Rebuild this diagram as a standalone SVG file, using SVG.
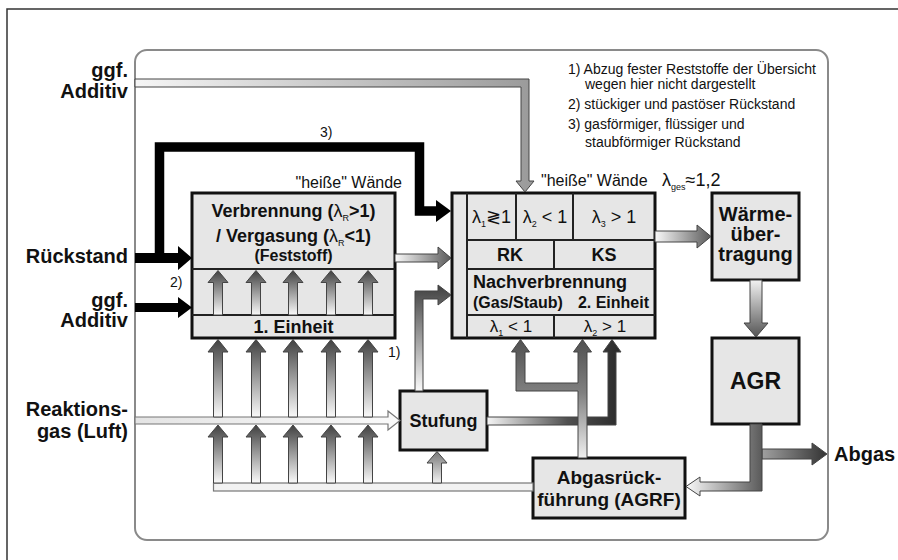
<svg xmlns="http://www.w3.org/2000/svg" width="898" height="560" viewBox="0 0 898 560">
<style>
text{font-family:"Liberation Sans",Arial,"DejaVu Sans",sans-serif;fill:#111}
.b{font-weight:bold}
.lam{font-weight:normal}
.box{fill:#e6e6e6;stroke:#111;stroke-width:3}
.div{stroke:#222;stroke-width:2}
.ga{stroke:#444;stroke-width:1}
.hol{stroke:#777;stroke-width:1.2}
.leg{font-size:14px}
</style>
<defs>
<linearGradient id="gR" x1="0" y1="0" x2="1" y2="0"><stop offset="0" stop-color="#fafafa"/><stop offset="1" stop-color="#5a5a5a"/></linearGradient>
<linearGradient id="gR2" x1="0" y1="0" x2="1" y2="0"><stop offset="0" stop-color="#f6f6f6"/><stop offset="1" stop-color="#9a9a9a"/></linearGradient>
<linearGradient id="gUp" x1="0" y1="0" x2="0" y2="1"><stop offset="0" stop-color="#404040"/><stop offset="1" stop-color="#fafafa"/></linearGradient>
<linearGradient id="gUpL" x1="0" y1="0" x2="0" y2="1"><stop offset="0" stop-color="#777"/><stop offset="1" stop-color="#f2f2f2"/></linearGradient>
<linearGradient id="gDown" x1="0" y1="0" x2="0" y2="1"><stop offset="0" stop-color="#f2f2f2"/><stop offset="1" stop-color="#555"/></linearGradient>
<linearGradient id="gAG" x1="0" y1="0" x2="0" y2="1"><stop offset="0" stop-color="#505050"/><stop offset="0.45" stop-color="#808080"/><stop offset="1" stop-color="#f0f0f0"/></linearGradient>
<linearGradient id="gSt" x1="0" y1="0" x2="1" y2="0"><stop offset="0" stop-color="#f5f5f5"/><stop offset="0.6" stop-color="#505050"/><stop offset="1" stop-color="#2a2a2a"/></linearGradient>
<linearGradient id="gAbg" x1="0" y1="0" x2="1" y2="0"><stop offset="0" stop-color="#a0a0a0"/><stop offset="1" stop-color="#333"/></linearGradient>
<linearGradient id="gRG" x1="0" y1="0" x2="1" y2="0"><stop offset="0" stop-color="#e4e4e4"/><stop offset="1" stop-color="#fafafa"/></linearGradient>
</defs>

<g id="frame">
<path d="M7,560 V9 H898" fill="none" stroke="#333" stroke-width="1.5"/>
<rect x="135" y="50" width="693" height="490" rx="12" fill="none" stroke="#8a8a8a" stroke-width="2"/>
</g>

<g id="labels">
<text class="b" font-size="20" x="128" y="77" text-anchor="end">ggf.</text>
<text class="b" font-size="20" x="128" y="98" text-anchor="end">Additiv</text>
<text class="b" font-size="20" x="128" y="263" text-anchor="end">Rückstand</text>
<text class="b" font-size="20" x="128" y="307" text-anchor="end">ggf.</text>
<text class="b" font-size="20" x="128" y="327" text-anchor="end">Additiv</text>
<text class="b" font-size="20" x="128" y="416" text-anchor="end">Reaktions-</text>
<text class="b" font-size="20" x="128" y="438" text-anchor="end">gas (Luft)</text>
<text class="b" font-size="20" x="834" y="461">Abgas</text>
<text font-size="14" x="320" y="137">3)</text>
<text font-size="14" x="170" y="287">2)</text>
<text font-size="14" x="388" y="357">1)</text>
<text font-size="16" x="402" y="188" text-anchor="end">"heiße" Wände</text>
<text font-size="16" x="541" y="186">"heiße" Wände</text>
<text font-size="18" x="662" y="186">λ<tspan font-size="9" dy="4">ges</tspan><tspan dy="-4">≈1,2</tspan></text>
<text class="leg" x="568" y="74">1) Abzug fester Reststoffe der Übersicht</text>
<text class="leg" x="585" y="89">wegen hier nicht dargestellt</text>
<text class="leg" x="568" y="109">2) stückiger und pastöser Rückstand</text>
<text class="leg" x="568" y="129">3) gasförmiger, flüssiger und</text>
<text class="leg" x="585" y="147">staubförmiger Rückstand</text>
</g>

<g id="einheit1">
<rect class="box" x="192" y="193" width="203" height="145"/>
<line class="div" x1="192" y1="269" x2="395" y2="269"/>
<line class="div" x1="192" y1="315" x2="395" y2="315"/>
<text class="b" font-size="18" x="293.5" y="217" text-anchor="middle">Verbrennung (<tspan class="lam">λ</tspan><tspan class="lam" font-size="9" dy="4">R</tspan><tspan dy="-4">&gt;1)</tspan></text>
<text class="b" font-size="18" x="293.5" y="242" text-anchor="middle">/ Vergasung (<tspan class="lam">λ</tspan><tspan class="lam" font-size="9" dy="4">R</tspan><tspan dy="-4">&lt;1)</tspan></text>
<text class="b" font-size="16" x="293.5" y="261" text-anchor="middle">(Feststoff)</text>
<text class="b" font-size="18" x="293.5" y="333" text-anchor="middle">1. Einheit</text>
</g>

<g id="einheit2">
<rect class="box" x="452" y="193" width="203" height="145"/>
<line class="div" x1="467" y1="193" x2="467" y2="338"/>
<line class="div" x1="467" y1="240" x2="655" y2="240"/>
<line class="div" x1="467" y1="269" x2="655" y2="269"/>
<line class="div" x1="467" y1="315" x2="655" y2="315"/>
<line class="div" x1="516" y1="193" x2="516" y2="240"/>
<line class="div" x1="573" y1="193" x2="573" y2="240"/>
<line class="div" x1="554" y1="240" x2="554" y2="269"/>
<line class="div" x1="554" y1="315" x2="554" y2="338"/>
<text font-size="18" x="491.5" y="223" text-anchor="middle">λ<tspan font-size="9" dy="4">1</tspan><tspan dy="-4">≷1</tspan></text>
<text font-size="18" x="545" y="223" text-anchor="middle">λ<tspan font-size="9" dy="4">2</tspan><tspan dy="-4"> &lt; 1</tspan></text>
<text font-size="18" x="614" y="223" text-anchor="middle">λ<tspan font-size="9" dy="4">3</tspan><tspan dy="-4"> &gt; 1</tspan></text>
<text class="b" font-size="18" x="510" y="261" text-anchor="middle">RK</text>
<text class="b" font-size="18" x="604" y="261" text-anchor="middle">KS</text>
<text class="b" font-size="18" x="473" y="288">Nachverbrennung</text>
<text class="b" font-size="16" x="473" y="308">(Gas/Staub)</text>
<text class="b" font-size="16" x="649" y="308" text-anchor="end">2. Einheit</text>
<text font-size="17" x="511" y="332" text-anchor="middle">λ<tspan font-size="9" dy="4">1</tspan><tspan dy="-4"> &lt; 1</tspan></text>
<text font-size="17" x="605" y="332" text-anchor="middle">λ<tspan font-size="9" dy="4">2</tspan><tspan dy="-4"> &gt; 1</tspan></text>
</g>

<g id="waerme">
<rect class="box" x="712" y="193" width="87" height="87"/>
<text class="b" font-size="20" x="755.5" y="221" text-anchor="middle">Wärme-</text>
<text class="b" font-size="20" x="755.5" y="241" text-anchor="middle">über-</text>
<text class="b" font-size="20" x="755.5" y="261" text-anchor="middle">tragung</text>
</g>

<g id="agr">
<rect class="box" x="712" y="338" width="87" height="86"/>
<text class="b" font-size="23" x="755.5" y="389" text-anchor="middle">AGR</text>
</g>

<g id="stufung">
<rect class="box" x="400" y="391" width="87" height="59"/>
<text class="b" font-size="18" x="443.5" y="427" text-anchor="middle">Stufung</text>
</g>

<g id="agrf">
<rect class="box" x="533" y="458" width="152" height="60"/>
<text class="b" font-size="19" x="609" y="484" text-anchor="middle">Abgasrück-</text>
<text class="b" font-size="19" x="609" y="506" text-anchor="middle">führung (AGRF)</text>
</g>

<g id="connectors">
<polygon class="ga" fill="url(#gR2)" points="135,79 529,79 529,181 534,181 525,192 516,181 521,181 521,87 135,87"/>
<path d="M159.5,256 V147 H419.5 V211 H438" fill="none" stroke="#000" stroke-width="9.5" stroke-linejoin="miter"/>
<polygon fill="#000" points="436,200 451,211 436,222"/>
<polygon fill="#000" points="135,253 178,253 178,246 192,258 178,270 178,263 135,263"/>
<polygon fill="#000" points="135,303 178,303 178,297 192,307.5 178,318 178,312 135,312"/>
<polygon class="ga" fill="url(#gR)" points="395,254 438,254 438,247 451,258 438,269 438,262 395,262"/>
<polygon class="ga" fill="url(#gR)" points="655,231 697,231 697,225 711,236.5 697,248 697,242 655,242"/>
<polygon class="ga" fill="url(#gDown)" points="750,280 762,280 762,323 768,323 756,337 744,323 750,323"/>
<polygon class="ga" fill="url(#gAbg)" points="762,449 812,449 812,443 827,454 812,465 812,459 762,459"/>
<polygon class="ga" fill="url(#gR)" points="750,424 762,424 762,491 700,491 700,496 686,486.5 700,477 700,482 750,482"/>
<polygon class="hol" fill="url(#gRG)" points="135,417 388,417 388,411 400,420.5 388,430 388,424 135,424"/>
<rect class="hol" fill="#f2f2f2" x="213.5" y="483" width="319.5" height="8"/>
<polygon class="ga" fill="url(#gUp)" points="213.5,315 213.5,282.5 208,282.5 218,270.5 228,282.5 222.5,282.5 222.5,315"/>
<polygon class="ga" fill="url(#gUp)" points="251.5,315 251.5,282.5 246,282.5 256,270.5 266,282.5 260.5,282.5 260.5,315"/>
<polygon class="ga" fill="url(#gUp)" points="288.5,315 288.5,282.5 283,282.5 293,270.5 303,282.5 297.5,282.5 297.5,315"/>
<polygon class="ga" fill="url(#gUp)" points="326.5,315 326.5,282.5 321,282.5 331,270.5 341,282.5 335.5,282.5 335.5,315"/>
<polygon class="ga" fill="url(#gUp)" points="363.5,315 363.5,282.5 358,282.5 368,270.5 378,282.5 372.5,282.5 372.5,315"/>
<polygon class="ga" fill="url(#gUp)" points="213.5,417 213.5,352 208,352 218,339.5 228,352 222.5,352 222.5,417"/>
<polygon class="ga" fill="url(#gUp)" points="251.5,417 251.5,352 246,352 256,339.5 266,352 260.5,352 260.5,417"/>
<polygon class="ga" fill="url(#gUp)" points="288.5,417 288.5,352 283,352 293,339.5 303,352 297.5,352 297.5,417"/>
<polygon class="ga" fill="url(#gUp)" points="326.5,417 326.5,352 321,352 331,339.5 341,352 335.5,352 335.5,417"/>
<polygon class="ga" fill="url(#gUp)" points="363.5,417 363.5,352 358,352 368,339.5 378,352 372.5,352 372.5,417"/>
<polygon class="ga" fill="url(#gUp)" points="213.5,483 213.5,437 208,437 218,425 228,437 222.5,437 222.5,483"/>
<polygon class="ga" fill="url(#gUp)" points="251.5,483 251.5,437 246,437 256,425 266,437 260.5,437 260.5,483"/>
<polygon class="ga" fill="url(#gUp)" points="288.5,483 288.5,437 283,437 293,425 303,437 297.5,437 297.5,483"/>
<polygon class="ga" fill="url(#gUp)" points="326.5,483 326.5,437 321,437 331,425 341,437 335.5,437 335.5,483"/>
<polygon class="ga" fill="url(#gUp)" points="363.5,483 363.5,437 358,437 368,425 378,437 372.5,437 372.5,483"/>
<polygon class="ga" fill="url(#gUpL)" points="432.5,483 432.5,463 427,463 437,451.5 447,463 441.5,463 441.5,483"/>
<polygon class="ga" fill="url(#gUp)" points="415,391 415,291 438,291 438,285 451,295 438,305 438,299 423,299 423,391"/>
<polygon class="ga" fill="url(#gSt)" points="487,417 608,417 608,352 603,352 612,339.5 621,352 616,352 616,425 487,425"/>
<polygon class="ga" fill="url(#gAG)" points="578,458 578,391 516,391 516,352 511.5,352 520.5,339.5 529.5,352 525,352 525,383 578,383 578,352 573.5,352 582.5,339.5 591.5,352 587,352 587,458"/>
</g>
</svg>
